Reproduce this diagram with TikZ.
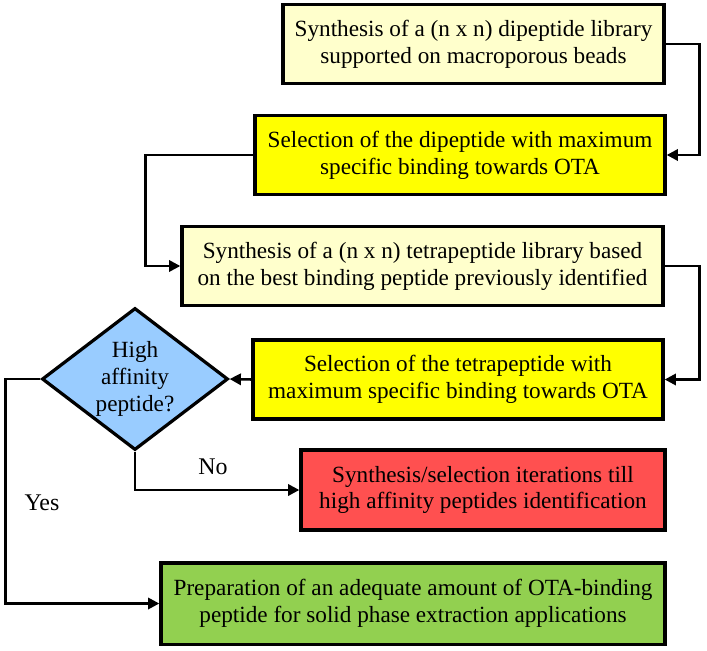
\documentclass[tikz,border=0pt]{standalone}
\usepackage{fontspec}
\setmainfont{Liberation Serif}
\usepackage{tikz}
\usetikzlibrary{shapes.geometric,arrows.meta}

\definecolor{paleyellow}{HTML}{FFFFCC}
\definecolor{brightyellow}{HTML}{FFFF00}
\definecolor{skyblue}{HTML}{99CCFF}
\definecolor{alertred}{HTML}{FF5050}
\definecolor{leafgreen}{HTML}{92D050}

\tikzset{
  box/.style={draw, rectangle, line width=2.3pt, minimum height=1.97cm, align=center,
    font=\fontsize{16.5}{19}\selectfont},
  link/.style={-{Triangle[length=8pt,width=8pt]}, line width=1.8pt},
}

\begin{document}
\begin{tikzpicture}[x=0.025cm, y=-0.025cm]
            \useasboundingbox (0,0) rectangle (707,650);

            \node (a) [box, fill=paleyellow, minimum width=9.525cm] at (473.5,44) {Synthesis of a (n x n) dipeptide library\\supported on macroporous beads};
            \node (b) [box, fill=brightyellow, minimum width=10.25cm] at (460,155) {Selection of the dipeptide with maximum\\specific binding towards OTA};
            \node (c) [box, fill=paleyellow, minimum width=12.025cm] at (422.5,266) {Synthesis of a (n x n) tetrapeptide library based\\on the best binding peptide previously identified};
            \node (d) [box, fill=brightyellow, minimum width=10.25cm] at (458,379.5) {Selection of the tetrapeptide with\\maximum specific binding towards OTA};
            \node (e) [draw, diamond, fill=skyblue, line width=2.3pt, aspect=1.3, inner sep=0pt,
              minimum width=4.65cm, minimum height=3.55cm, align=center,
              font=\fontsize{16.5}{19}\selectfont] at (135,379) {High\\affinity\\peptide?};
            \node (f) [box, fill=alertred, minimum width=9.1cm, minimum height=2cm] at (483,490) {Synthesis/selection iterations till\\high affinity peptides identification};
            \node (g) [box, fill=leafgreen, minimum width=12.6cm, minimum height=2.03cm] at (413,603.5) {Preparation of an adequate amount of OTA-binding\\peptide for solid phase extraction applications};

            \draw[link] (a.east) -- ++(34,0) |- (b.east);
            \draw[link] (b.west) -- ++(-108,0) |- (c.west);
            \draw[link] (c.east) -- ++(35,0) |- (d.east);
            \draw[link] (d.west) -- (e.east);
            \draw[link] (e.south) |- (f.west);
            \draw[link] (e.west) -- ++(-35,0) |- (g.west);

            \node (no) [font=\fontsize{17}{19}\selectfont] at (213,467) {No};
            \node (yes) [font=\fontsize{17}{19}\selectfont] at (42,503) {Yes};
        \end{tikzpicture}
\end{document}
